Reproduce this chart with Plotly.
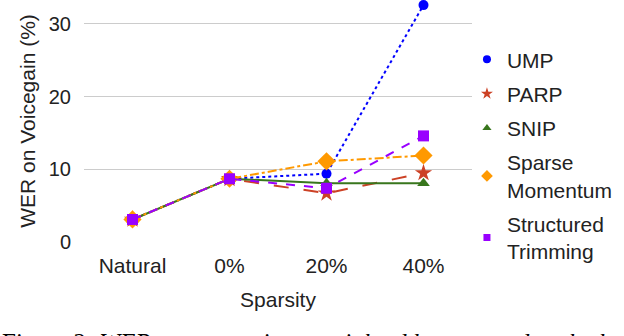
import plotly.graph_objects as go

# sparsity levels on the x axis
sparsity = ['Natural', '0%', '20%', '40%']

# WER on Voicegain (%) per method
ump = [3.1, 8.7, 9.4, 32.6]
parp = [3.1, 8.7, 6.7, 9.5]
snip = [3.1, 8.7, 8.1, 8.1]
sparse_momentum = [3.1, 8.7, 11.1, 11.9]
structured_trimming = [3.1, 8.7, 7.4, 14.6]

y_ticks = [0, 10, 20, 30]

series = [
    ('UMP', ump, '#0000ff', 'dot', 'circle', 10, 8),
    ('PARP', parp, '#cc4125', 'longdash', 'star', 13, 9),
    ('SNIP', snip, '#38761d', 'solid', 'triangle-up', 11, 8),
    ('Sparse<br>Momentum', sparse_momentum, '#ff9900', 'dashdot', 'diamond', 14, 9),
    ('Structured<br>Trimming', structured_trimming, '#9900ff', 'dash', 'square', 11, 7),
]

fig = go.Figure()

for name, vals, col, dash, sym, msize, lsize in series:
    fig.add_trace(go.Scatter(
        x=sparsity, y=vals, mode='lines+markers', showlegend=False,
        line=dict(color=col, width=2, dash=dash),
        marker=dict(symbol=sym, size=msize, color=col),
        cliponaxis=False,
    ))

# legend shows markers only
for name, vals, col, dash, sym, msize, lsize in series:
    fig.add_trace(go.Scatter(
        x=[None], y=[None], mode='markers', name=name, legendgroup=name,
        marker=dict(symbol=sym, size=lsize, color=col),
    ))

fig.update_layout(
    width=624, height=336,
    margin=dict(l=84, r=152, t=0, b=94),
    paper_bgcolor='white', plot_bgcolor='white',
    font=dict(family='Liberation Sans, Arial, sans-serif', size=21, color='#222222'),
    xaxis=dict(
        range=[-0.5, 3.5], showgrid=False, zeroline=False, showline=False,
        ticks='', ticklabelstandoff=9,
        title=dict(text='Sparsity', standoff=16, font=dict(size=21)),
    ),
    yaxis=dict(
        range=[0, 33.3], tickvals=y_ticks, showgrid=True, gridcolor='#cccccc',
        zeroline=False, showline=False, ticks='', ticklabelstandoff=12,
        tickfont=dict(size=20),
        title=dict(text='WER on Voicegain (%)', standoff=7, font=dict(size=21)),
    ),
    legend=dict(
        x=0.987, xanchor='left', y=0.838, yanchor='top',
        traceorder='grouped', tracegroupgap=4, maxheight=320,
        itemsizing='trace', bgcolor='rgba(0,0,0,0)',
    ),
)

# figure caption, cut off at the bottom edge of the picture
fig.add_annotation(
    x=-0.2165, xref='paper', xanchor='left',
    y=-0.35, yref='paper', yanchor='top',
    text='Figure 2: <i>WER across settings, weighted by rewound to the length</i>',
    showarrow=False, align='left',
    font=dict(family='Liberation Serif, Times New Roman, serif', size=25, color='#000000'),
)

fig.write_html('out.html', config={'displayModeBar': False},
               post_script="document.body.style.margin='0px';")
